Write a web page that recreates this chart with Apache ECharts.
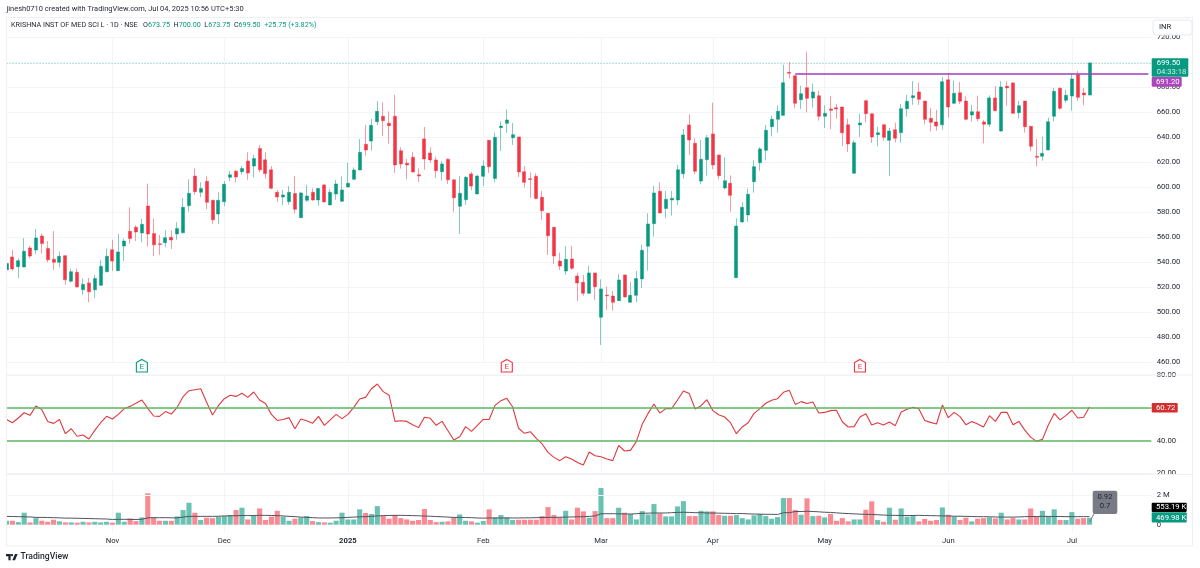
<!DOCTYPE html>
<html><head><meta charset="utf-8">
<style>html,body{margin:0;padding:0;background:#fff}#c{width:1200px;height:568px}</style>
<script src="https://cdn.jsdelivr.net/npm/echarts@6/dist/echarts.min.js"></script>
</head><body><div id="c"></div>
<script>
const opens = [
534,544.3,536.5,536.3,551.5,549.9,561,551,542.4,540,
545.3,524.8,532,518,523.5,518,521.6,532.5,550,533.3,
553,564.8,568,563.5,585,563,554.8,555.7,560,562.7,
563.7,585.3,609,596,604.8,589.6,578.7,588.5,608,612.8,
612.5,621,617,631,622,614,596,592.3,588.5,595,
575.7,589.6,596,589.9,601.9,585.9,594.7,588.8,600.3,606.4,
613.9,634.4,637,652.5,656.8,651.2,656.8,629.3,619.2,624,
610,638.7,627.5,621.9,612.5,622.4,606,584.8,590,610.7,
594.7,608.8,637.6,607,647.7,651.2,639.7,640.3,612.5,606.9,
608.8,592,579.2,568,541,533,542.7,529,524,515.2,
531.5,496,513.8,513,509.3,529.9,508,513.6,526.7,552.8,
570.9,596.8,583,589.9,589.9,610.9,649.9,635.2,605,622.1,
642.7,625.9,599.5,603.2,527.7,572.3,577.9,604.5,619.7,629.6,
648.5,654.4,657.6,692,689.3,670.1,679.7,671.5,673.3,656.8,
662.7,663.7,664.3,650,611.2,649.9,669.3,658.9,642.1,650.1,
637.6,646.1,643.7,662.9,671.7,676.3,669,655.2,652.3,650,
686,667.2,675.7,669,657.9,660.5,652.3,650.4,671.5,645,
680.8,683.5,659.7,669,648.8,624.8,624.8,629.9,656.8,679.2,
669.6,673,690,675.5,673.75];
const highs = [
540,549.9,543.2,559.2,553,566.7,563,557,565,548.5,
545.5,535,535,527,527.5,530,541.9,551,558,562.7,
559,584,569.6,574.7,603,575,562,565.6,565.6,572,
591.5,606.4,615,604,609,590,596,605,613,614,
617,628,626,634,628,617,598,598,601,609,
596.5,601.9,599,599.5,602.7,598.7,605.9,608.8,619.7,616,
638.7,649.9,654.7,669,668,660.8,674,632,622.7,628.3,
615.2,648.3,632,624.5,621,623,606,608.8,609,612.3,
610,621.6,637.6,643.7,652.8,662.4,651.5,640.3,617,612,
611.2,597,579.2,568,547.7,552.8,553,531.7,529.9,537.3,
531.5,526.4,520.5,517,530.7,530,524.5,533,553.9,579.2,
601.3,604,597.3,597,617.9,646.7,658.4,639.2,637.9,641.9,
667.7,625.9,624,609.6,575.2,588,598.9,621.6,632,649.9,
657.3,665.6,698,700.3,689.3,681.3,708.5,682.9,677.3,665.6,
673,666.7,664.3,654.9,637.6,658.9,669.6,658.9,648.3,650.1,
647.5,651.7,666.7,674,685,683.7,669,663.5,662,688.3,
691.5,685.3,684.3,672.8,666,673.3,654,673.6,681,685,
684.8,684,669.3,669,648.8,638.7,640.5,655.7,679.5,680,
678,690.7,693,679.5,700];
const lows = [
533,533.3,527.2,536,543,546.4,547,540,534,536,
522,524,520,514,508,511.5,521,532,533,533,
541,555,557,556,552.5,545,546,552,550.7,558,
563,580.5,594,592,582.5,570.7,570.7,585,605,604,
610,606,608,612,607,598.5,588.5,585.9,586,579,
575.5,588.3,589.3,585.3,587.7,585.6,590,588.5,600,606,
613.6,625.3,629.3,649.9,641,634.9,611.5,615,606.4,611.7,
604.3,614.1,619.5,607.5,605.3,602.7,580.3,562.7,586,597.6,
594.4,601,611.5,604,629,643.7,633.9,608.3,600,591.7,
590.4,573.9,545.9,538.7,533.9,529.9,533.9,509,513.3,514.7,
509.9,473.9,501.9,501.3,509,512,507.7,508,519.5,533.3,
560.5,579,575.5,577.3,585.9,607,625.9,610.4,602.4,609.3,
614.4,606.4,598.4,580.5,527.5,571.7,572.5,595.7,613.3,621.6,
640.8,643.7,657,687,663.2,662.7,660,663.7,653.3,647.5,
646.4,654.9,632.8,628.3,611,640.3,652,635.5,632.8,637.3,
609,636,635.7,656.5,666,666,650.4,644.8,645.3,646,
655.7,666.7,666.7,653.6,652.5,652.8,635.2,648.3,661,644.5,
665.3,658.7,655.2,643.7,628.8,616.8,621.3,629.6,652.8,662,
667.7,661.3,669.3,665.6,673.75];
const closes = [
539,534.7,541.3,548.8,545,559.5,555,542,540,544.8,
526,532.5,520.3,522.4,516.5,527,536.8,544.8,541,548.3,
557,559,564.3,570.4,562.7,554,554.2,559.7,557.9,567,
584,595.2,596.5,599,588,574,589.6,602.4,610,608.3,
615,611.5,623,614,611,599.2,592.3,593.9,596,582.4,
595.5,593,589.9,599,588.3,596,602.7,597.9,603.2,613.9,
628,629.9,649.6,660.8,653.3,649.3,617.9,618.7,617.9,612.3,
609,622.7,621.9,613.3,618.7,606,591.7,595.2,608,601,
609,617,616.5,640,649,653.9,642.1,612.3,604,606.3,
591,581.3,561.3,545,537,542.4,535.2,523.5,515.2,531.5,
520.5,518.7,513.2,508,525.9,512.3,513.6,527,549.6,570.7,
595.5,579.5,590.4,591.2,614,641.9,637.9,612.8,622.4,639.7,
617.9,609.3,605.3,593.6,569,584,594.4,616.5,630.7,645.6,
654.4,660.8,683.7,691.2,667.2,674.9,671.2,676.3,656.8,659.2,
661.6,662.7,643.7,634.7,635.7,651.5,658.9,640.3,643.7,640,
645,639.2,662.9,668.8,673.3,670.4,654.4,652,649,684.5,
664.3,675.2,668.8,654.4,660.5,654.9,650.4,671.5,661.3,680.3,
679.5,659.2,665.3,648.5,632.8,624,627.2,652.5,676.8,663.2,
673.6,686.7,672,673.9,699.5];
const rsiValues = [
53,51,53.9,57.1,55.5,61.2,59,51.8,50.6,53,
44.3,47.3,42.7,43.5,41,46.3,51,54.9,53.3,56.1,
59.6,61,62.9,64.9,59.8,55.1,54.9,57.8,56.3,60.4,
66.9,70.6,71.2,71.8,63.5,55.7,61.4,65.7,67.8,67.1,
69,66.5,69.8,64.9,62.7,56.1,52.4,53,54.1,47.3,
53.3,52.2,50.6,54.9,49.4,52.7,56.1,53.5,56.1,60.4,
65.5,66.5,71.8,74.7,70,67.8,51.8,52.2,51.8,49.8,
48,54.3,53.7,49.4,51.8,46.1,40.4,42.4,48.6,45.7,
49.4,53,53,61.6,64.5,65.9,60.6,47.6,44.5,45.5,
41.4,38,32.9,29.8,27.8,30.2,28.8,26.7,25.1,33.1,
30.8,30.2,28.8,27.8,37.1,33.7,34.1,39.4,50,56.7,
62.4,56.9,59.6,59.6,64.9,70.4,68.8,59.4,61.4,65.1,
58.4,55.9,54.5,51,44.3,48.4,51,56.7,59.6,62.9,
64.7,65.7,69.6,70.8,62.2,63.9,62.7,63.7,56.9,57.3,
58.4,58.6,51.6,48.4,48.6,54.5,56.5,49.6,51,49.6,
51.4,49.2,57.6,59.2,60.4,59.6,52.4,51.2,50.2,61.8,
54.1,57.3,54.7,49.8,51.8,50.2,48.4,55.3,51.8,57.3,
57.3,49.8,51.8,46.5,42.2,39.6,40.8,49.6,56.7,52.7,
55.5,58.6,53.9,54.3,60.72];
const volumes = [
.27,.27,.18,.82,.16,.45,.27,.20,.34,.23,
.16,.16,.14,.20,.16,.20,.16,.20,.14,.82,
.20,.43,.25,.50,2.14,.50,.27,.27,.27,.57,
1.0,1.5,.82,.32,.48,.45,.55,.59,.66,1.0,
1.16,.36,.64,1.11,.32,.55,.95,.55,.27,.41,
.48,.59,.25,.18,.16,.14,.27,.82,.36,.36,
1.05,.80,.73,1.27,.59,.41,.66,.45,.36,.27,
.32,1.07,.32,.18,.20,.23,.50,.70,.27,.23,
.14,.25,1.05,.50,.66,.50,.32,.34,.34,.34,
.34,.59,1.20,.66,.50,.95,.36,1.16,.91,.48,
.93,2.5,.45,.45,1.16,.82,.73,.36,.93,.70,
1.41,.77,.57,.57,1.25,1.61,.59,.59,.95,.91,
.91,.66,.61,.61,.66,.45,.36,.64,.73,.59,
.41,.52,1.82,1.82,1.0,.68,1.8,.59,.61,.50,
.73,.27,.45,.23,.36,.36,1.02,1.59,.32,.20,
1.16,.34,1.11,.55,.59,.23,.39,.27,.32,1.18,
.68,.55,.32,.48,.23,.41,.45,.50,.43,.82,
.36,.45,.36,.36,1.11,.59,.95,.59,1.05,.32,
.32,.86,.41,.45,.47];
const volumeMA = [
.57,.56,.55,.54,.53,.50,.50,.49,.48,.47,
.45,.45,.44,.43,.42,.41,.40,.39,.36,.37,
.37,.36,.36,.37,.47,.48,.48,.48,.47,.47,
.52,.57,.57,.57,.57,.57,.58,.60,.61,.61,
.63,.62,.63,.64,.64,.63,.62,.60,.57,.55,
.52,.50,.48,.46,.46,.46,.47,.48,.50,.52,
.54,.55,.57,.60,.62,.63,.64,.64,.63,.62,
.61,.59,.58,.56,.54,.52,.50,.50,.49,.48,
.46,.45,.46,.46,.46,.46,.46,.46,.47,.47,
.48,.49,.50,.50,.51,.52,.53,.54,.55,.57,
.60,.75,.75,.75,.74,.74,.73,.75,.78,.79,
.80,.80,.80,.82,.84,.85,.84,.82,.82,.80,
.80,.79,.78,.77,.76,.76,.74,.73,.72,.71,
.71,.70,.82,.82,.90,.90,.92,.90,.88,.85,
.84,.81,.78,.76,.74,.72,.71,.70,.68,.66,
.64,.64,.63,.63,.63,.64,.63,.62,.61,.60,
.60,.58,.58,.57,.56,.55,.55,.54,.53,.52,
.52,.52,.53,.55,.56,.56,.57,.57,.56,.56,
.55,.55,.55,.55,.553];
const monthIndex = [18,37,58,81,101,120,139,160,181];
const monthLabels = ['Nov','Dec','2025','Feb','Mar','Apr','May','Jun','Jul'];
const barSlots = 195;
const priceTicks = {min:460,max:720,interval:20};
const rsiTicks = {min:20,max:80,interval:20};
const resistance = 691.2, lastClose = 699.5;
const earningsBars = [[23,'E','#089981'],[85,'E','#f23645'],[145,'E','#f23645']];

const UP='#089981', DOWN='#f23645', GRID='#f3f4f8', TXT='#1f2430', FONT='Roboto';
const cats = Array.from({length:barSlots},(_,i)=>String(i));
const L=3.56, W=5.886*barSlots;
const candle = opens.map((o,i)=>[o,closes[i],lows[i],highs[i]]);
const vols = volumes.map((v,i)=>({value:v,itemStyle:{color:closes[i]>=opens[i]?'rgba(8,153,129,.6)':'rgba(242,54,69,.58)'}}));
const monthFn = i=>monthIndex.includes(+i);
const xBase = g=>({type:'category',gridIndex:g,data:cats,boundaryGap:true,
  axisLine:{show:false},axisTick:{show:false},
  axisLabel:{show:false},
  splitLine:{show:true,alignWithLabel:true,interval:monthFn,lineStyle:{color:GRID,width:1}}});
const yLabel = {show:true,color:TXT,fontFamily:FONT,fontSize:7.7,margin:5.4,align:'left'};
const noLine = {axisLine:{show:false},axisTick:{show:false}};

const txt=(x,y,t,o={})=>({type:'text',z:50,x,y,style:Object.assign({text:t,fill:TXT,font:`7.7px ${FONT}`,textVerticalAlign:'middle',verticalAlign:'middle'},o)});
const box=(x,y,w,h,fill,r=1,stroke)=>({type:'rect',z:49,shape:{x,y,width:w,height:h,r},style:{fill,stroke}});
const hl=(x1,y,x2,c='#eef0f4')=>({type:'line',z:40,shape:{x1,y1:y,x2,y2:y},style:{stroke:c,lineWidth:1}});
const vl=(x,y1,y2,c='#eef0f4')=>({type:'line',z:40,shape:{x1:x,y1,x2:x,y2},style:{stroke:c,lineWidth:1}});

const tag = (i,t,c)=>{const cx=6.5+5.886*i;return [
 {type:'polygon',z:45,shape:{points:[[cx,359.5],[cx+5.5,362.5],[cx+5.5,372],[cx-5.5,372],[cx-5.5,362.5]]},style:{fill:'#fff',stroke:c,lineWidth:1.1}},
 txt(cx,366.8,t,{fill:c,font:`8px ${FONT}`,textAlign:'center',align:'center'})];};

const graphics = [
 {type:'rect',z:38,shape:{x:0,y:0,width:6,height:568},style:{fill:'#fff'}},
 hl(6,17.5,1193), hl(6,375,1193), hl(6,474.5,1193), hl(6,546,1193),
 vl(6.5,17.5,546), vl(1192.5,17.5,546),
 txt(6.5,9.4,'jinesh0710 created with TradingView.com, Jul 04, 2025 10:56 UTC+5:30',{font:`7.47px ${FONT}`}),
 {type:'text',z:50,x:11,y:25.6,style:{verticalAlign:'middle',textVerticalAlign:'middle',
   text:'{k|KRISHNA INST OF MED SCI L · 1D · NSE   O}{v|673.75}{k|  H}{v|700.00}{k|  L}{v|673.75}{k|  C}{v|699.50}{v|  +25.75 (+3.82%)}',
   rich:{k:{fill:TXT,font:`7.2px ${FONT}`},v:{fill:UP,font:`7.2px ${FONT}`}}}},
 box(1153,20,39,15,'#fff',3,'#e6e8ee'),
 txt(1159,27.3,'INR',{font:`7.7px ${FONT}`}),
 box(1151.7,58.3,36.6,18.4,UP,1),
 txt(1156.7,63.3,'699.50',{fill:'#fff'}),
 txt(1156.7,72,'04:33:18',{fill:'#cfeee8'}),
 box(1151.7,77,30,9.8,'#ab47bc',1),
 txt(1156,82,'691.20',{fill:'#fff'}),
 box(1151.7,403,26,9.4,'#d32f2f',1),
 txt(1156,407.8,'60.72',{fill:'#fff'}),
 box(1151.7,502.7,35,9.4,'#000',1),
 txt(1156,507.5,'553.19 K',{fill:'#fff'}),
 box(1151.7,512.3,35,10.3,UP,1),
 txt(1156,517.6,'469.98 K',{fill:'#fff'}),
 {type:'polyline',z:48,shape:{points:[[1089.5,522],[1095,512]]},style:{stroke:'#787b86',lineWidth:1,fill:null}},
 box(1092.7,490.7,24.6,23.4,'#787b86',2),
 txt(1105,497.5,'0.92',{textAlign:'center',align:'center'}),
 txt(1105,506.5,'0.7',{textAlign:'center',align:'center'}),
 {type:'rect',z:50,shape:{x:6,y:554,width:4.6,height:2.3},style:{fill:TXT}},
 {type:'rect',z:50,shape:{x:8.4,y:554,width:2.2,height:6.3},style:{fill:TXT}},
 {type:'circle',z:50,shape:{cx:12,cy:555.2,r:1.15},style:{fill:TXT}},
 {type:'polygon',z:50,shape:{points:[[12.3,560.3],[15,554],[17.7,554],[15,560.3]]},style:{fill:TXT}},
 txt(20.5,557.2,'TradingView',{font:`500 8.6px ${FONT}`}),
 ...earningsBars.flatMap(e=>tag(...e))
];

const chart = echarts.init(document.getElementById('c'),null,{renderer:'canvas',width:1200,height:568});
chart.setOption({
 animation:false,backgroundColor:'#fff',textStyle:{fontFamily:FONT},
 grid:[
  {left:L,width:W,top:37.3,height:325},
  {left:L,width:W,top:375.3,height:98.1},
  {left:L,width:W,top:480.75,height:51.3}],
 xAxis:[xBase(0),xBase(1),Object.assign(xBase(2),{axisLabel:{show:true,color:TXT,fontFamily:FONT,fontSize:7.7,margin:5,
   interval:monthFn,formatter:(v)=>{const k=monthIndex.indexOf(+v);const s=k<0?'':monthLabels[k];return s==='2025'?`{b|${s}}`:s;},
   rich:{b:{fontWeight:'bold',fontSize:7.7,color:TXT,fontFamily:FONT}}}})],
 yAxis:[
  Object.assign({type:'value',gridIndex:0,position:'right',scale:false,axisLabel:Object.assign({formatter:v=>v.toFixed(2)},yLabel),splitLine:{lineStyle:{color:GRID}}},priceTicks,noLine),
  Object.assign({type:'value',gridIndex:1,position:'right',axisLabel:Object.assign({formatter:v=>v.toFixed(2)},yLabel),splitLine:{lineStyle:{color:GRID}}},rsiTicks,noLine),
  Object.assign({type:'value',gridIndex:2,position:'right',min:-0.5,max:3,axisLabel:Object.assign({customValues:[0,2],formatter:v=>v===0?'0':v+' M'},yLabel),splitLine:{show:false}},noLine)],
 series:[
  {type:'candlestick',xAxisIndex:0,yAxisIndex:0,data:candle,barWidth:3.5,clip:true,
   itemStyle:{color:UP,color0:DOWN,borderColor:'rgba(8,153,129,.5)',borderColor0:'rgba(242,54,69,.5)',borderWidth:1},
   markLine:{silent:true,symbol:'none',label:{show:false},animation:false,data:[
     {yAxis:lastClose,lineStyle:{color:'#089981',type:[1,2],width:1,opacity:.55}},
     [{coord:[134,resistance],lineStyle:{color:'#a13dbb',type:'solid',width:1.5}},{coord:[194,resistance]}]]}},
  {type:'line',xAxisIndex:1,yAxisIndex:1,data:rsiValues,symbol:'none',smooth:false,lineStyle:{color:'#e0393e',width:1.1},
   markLine:{silent:true,symbol:'none',label:{show:false},animation:false,lineStyle:{color:'#5cb860',type:'solid',width:1.5},data:[{yAxis:60},{yAxis:40}]}},
  {type:'bar',xAxisIndex:2,yAxisIndex:2,data:vols,barWidth:5.1,
   markLine:{silent:true,symbol:'none',label:{show:false},animation:false,lineStyle:{color:GRID,type:'solid',width:1},data:[{yAxis:2}]}},
  {type:'line',xAxisIndex:2,yAxisIndex:2,data:volumeMA,symbol:'none',lineStyle:{color:'#50535e',width:1},z:5}
 ],
 graphic:graphics
});
</script></body></html>
